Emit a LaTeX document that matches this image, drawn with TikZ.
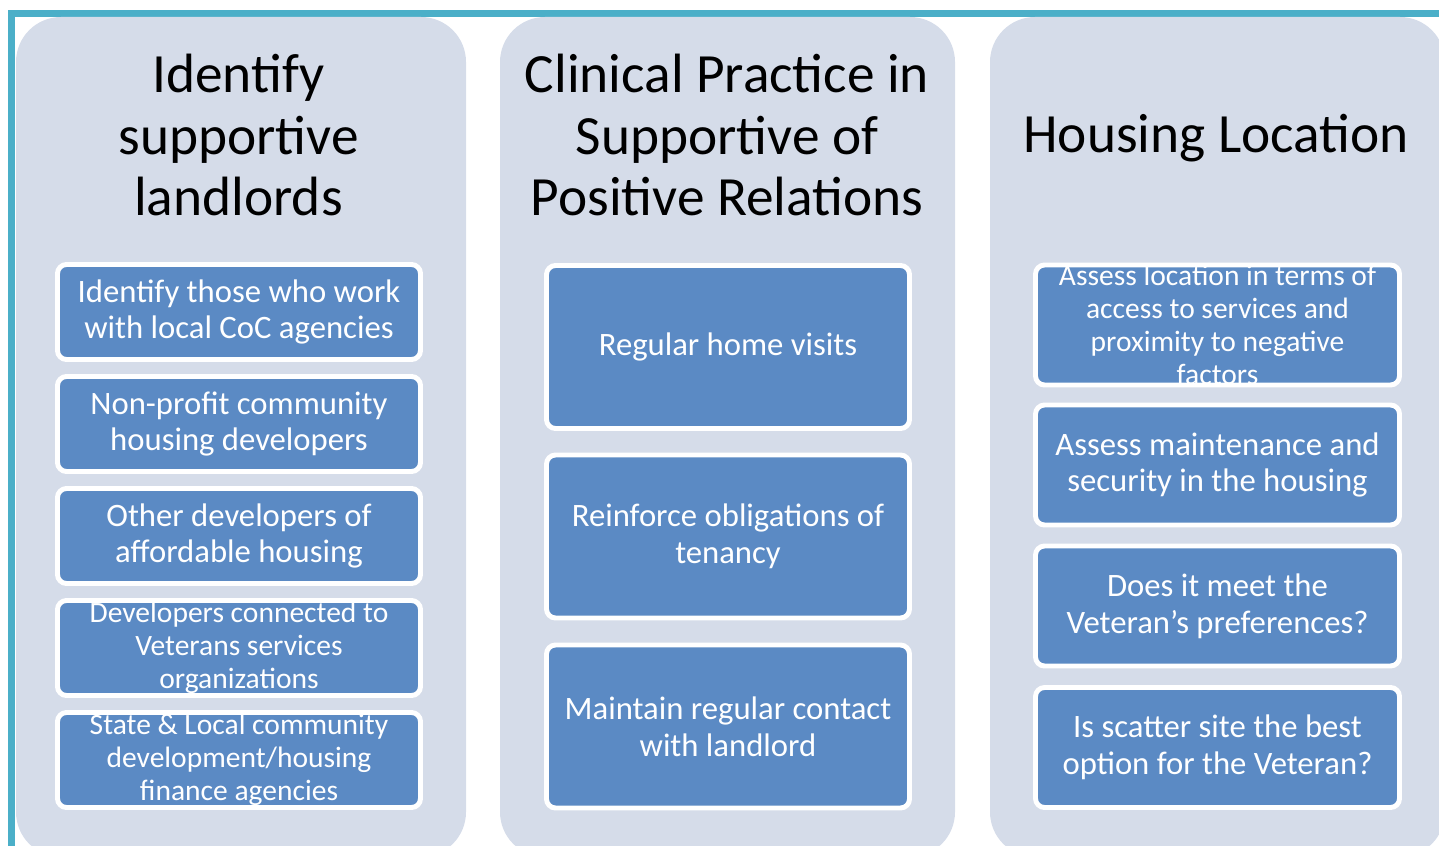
\documentclass[tikz,border=0pt]{standalone}
\usepackage{fontspec}
\setmainfont{Carlito}
\definecolor{framecol}{HTML}{4BAFC8}
\definecolor{colfill}{HTML}{D5DCE9}
\definecolor{itemblue}{HTML}{5B8AC4}

\begin{document}
\begin{tikzpicture}[
    column/.style={fill=colfill, rounded corners=0.9cm},
    item/.style={fill=itemblue, draw=white, line width=2.8pt, rounded corners=0.18cm,
      text=white, align=center, inner xsep=0pt, inner ysep=-2mm,
      font=\fontsize{18.6}{21}\selectfont},
    smallitem/.style={font=\fontsize{16.8}{18.8}\selectfont},
    title/.style={align=center, font=\fontsize{31.5}{35.2}\selectfont}
  ]
  \useasboundingbox (0,0) rectangle (28.78,-16.92);
  \clip (0,0) rectangle (28.78,-16.92);
  \draw[framecol, line width=0.14cm] (0.23,-17.5) |- (29.5,-0.27);

  \fill[column] (0.32,-0.34) rectangle (9.32,-17.14);
  \fill[column] (10.0,-0.34) rectangle (19.1,-17.14);
  \fill[column] (19.8,-0.34) rectangle (28.9,-17.14);

  \node[title] (landlords) at (4.77,-2.70) {Identify\\supportive\\landlords};
  \node[title] (clinical) at (14.54,-2.70) {Clinical Practice in\\Supportive of\\Positive Relations};
  \node[title] (location) at (24.32,-2.76) {Housing Location};

  \node[item, minimum width=7.26cm, minimum height=1.9cm] (coc) at (4.78,-6.24) {Identify those who work\\with local CoC agencies};
  \node[item, minimum width=7.26cm, minimum height=1.9cm] (nonprofit) at (4.78,-8.48) {Non-profit community\\housing developers};
  \node[item, minimum width=7.26cm, minimum height=1.9cm] (affordable) at (4.78,-10.72) {Other developers of\\affordable housing};
  \node[item, smallitem, minimum width=7.26cm, minimum height=1.9cm] (veterans) at (4.78,-12.96) {Developers connected to\\Veterans services\\organizations};
  \node[item, smallitem, minimum width=7.26cm, minimum height=1.9cm] (finance) at (4.78,-15.20) {State \& Local community\\development/housing\\finance agencies};

  \node[item, minimum width=7.26cm, minimum height=3.26cm] (visits) at (14.56,-6.94) {Regular home visits};
  \node[item, minimum width=7.26cm, minimum height=3.26cm] (tenancy) at (14.56,-10.73) {Reinforce obligations of\\tenancy};
  \node[item, minimum width=7.26cm, minimum height=3.26cm] (contact) at (14.56,-14.53) {Maintain regular contact\\with landlord};

  \node[item, smallitem, minimum width=7.28cm, minimum height=2.4cm] (access) at (24.35,-6.50) {Assess location in terms of\\access to services and\\proximity to negative\\factors};
  \node[item, minimum width=7.28cm, minimum height=2.4cm] (security) at (24.35,-9.30) {Assess maintenance and\\security in the housing};
  \node[item, minimum width=7.28cm, minimum height=2.4cm] (prefs) at (24.35,-12.12) {Does it meet the\\Veteran's preferences?};
  \node[item, minimum width=7.28cm, minimum height=2.4cm] (scatter) at (24.35,-14.95) {Is scatter site the best\\option for the Veteran?};
\end{tikzpicture}
\end{document}
